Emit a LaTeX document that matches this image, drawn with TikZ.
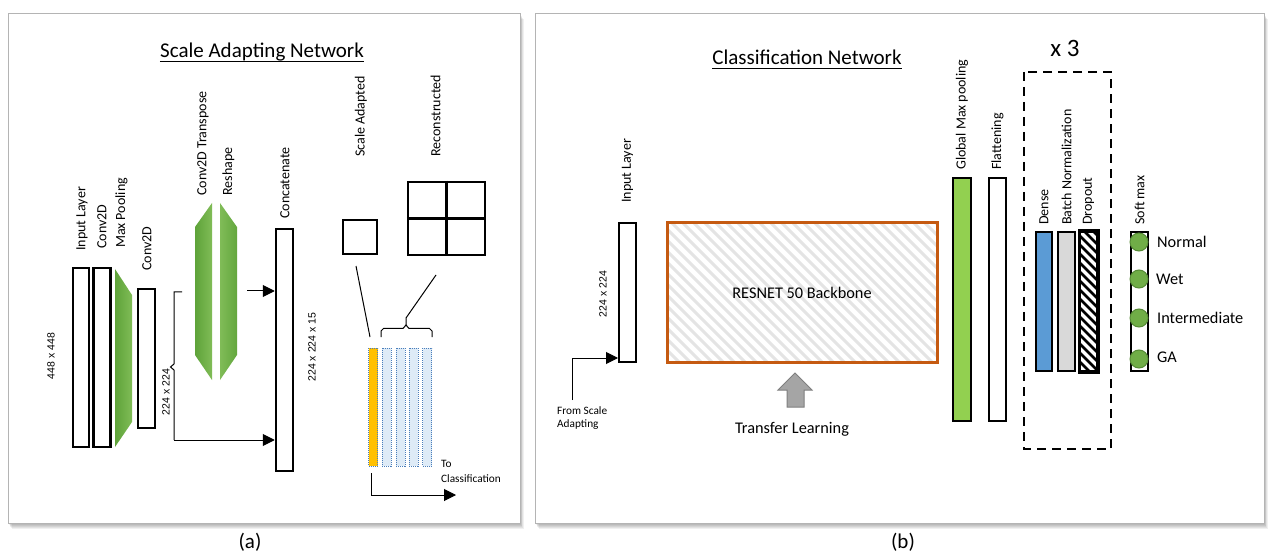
\documentclass[tikz,border=0pt]{standalone}
\usepackage{fontspec}
\setmainfont{Carlito}
\newfontfamily\dimfont{Liberation Sans}
\usetikzlibrary{arrows.meta}
\definecolor{frameline}{HTML}{B4B4B4}
\definecolor{greenA}{HTML}{5EA339}
\definecolor{greenB}{HTML}{80BC57}
\definecolor{resnetorange}{HTML}{C55A11}
\definecolor{hatchgray}{HTML}{E4E4E4}
\definecolor{gmpgreen}{HTML}{92D050}
\definecolor{denseblue}{HTML}{5B9BD5}
\definecolor{bngray}{HTML}{D9D9D9}
\definecolor{stripfill}{HTML}{DEEBF7}
\definecolor{stripline}{HTML}{4A7EBB}
\definecolor{scaleorange}{HTML}{FFC000}
\definecolor{smgreen}{HTML}{70AD47}
\definecolor{smgreenline}{HTML}{558A35}
\definecolor{tlfill}{HTML}{A5A5A5}
\definecolor{tlline}{HTML}{7F7F7F}

\begin{document}
\begin{tikzpicture}[x=1pt,y=-1pt,
  lbl/.style={rotate=90,anchor=west,inner sep=0pt,font=\fontsize{14}{16}\selectfont},
  dimlbl/.style={rotate=90,inner sep=0pt,font=\dimfont\fontsize{10.5}{12}\selectfont},
  bar/.style={draw,line width=2.5pt,inner sep=0pt,fill=white},
  strip/.style={draw=stripline,densely dotted,line width=1pt,fill=stripfill,inner sep=0pt,minimum width=9pt,minimum height=118pt},
  arr/.style={-{Triangle[length=12pt,width=12pt]},line width=1pt},
  title/.style={inner sep=0pt,font=\fontsize{21}{25}\selectfont},
  body/.style={inner sep=0pt,font=\fontsize{16.3}{19}\selectfont},
  small/.style={inner sep=0pt,anchor=west,font=\fontsize{11.3}{13}\selectfont},
  panel/.style={draw=frameline,line width=0.8pt,fill=white},
  smdot/.style={circle,fill=smgreen,draw=smgreenline,line width=1pt,minimum size=18pt,inner sep=0pt},
  cls/.style={anchor=west,inner sep=0pt,font=\fontsize{16.3}{19}\selectfont},
]
\useasboundingbox (0,0) rectangle (1269,553);
\fill[white] (0,0) rectangle (1269,553);

% ---------- panel frames with soft shadows ----------
\foreach \s in {1,...,6} {
  \fill[black,opacity=0.06] (8+\s*0.6,13+\s) rectangle (520+\s*0.6,523+\s);
  \fill[black,opacity=0.06] (535+\s*0.6,13+\s) rectangle (1264+\s*0.6,523+\s);
}
\draw[panel] (8,13) rectangle (520,523);
\draw[panel] (535,13) rectangle (1264,523);

% ================= (a) Scale Adapting Network =================
\node[title] (ta) at (262,52) {Scale Adapting Network};
\draw[line width=1.3pt] ([yshift=-4pt]ta.base west) -- ([yshift=-4pt]ta.base east);

% input stage
\node[bar,minimum width=16pt,minimum height=179pt] (in1) at (81,357.5) {};
\node[bar,minimum width=17pt,minimum height=179pt] (cv1) at (102,357.5) {};
\shade[left color=greenA,right color=greenB] (115,269) -- (132,295) -- (132,422) -- (115,447) -- cycle;
\node[bar,minimum width=17pt,minimum height=139pt] (cv2) at (146.5,358.5) {};

\node[lbl] at (82,251) {Input Layer};
\node[lbl] at (102,249) {Conv2D};
\node[lbl] at (121.5,248) {Max Pooling};
\node[lbl] at (147,271) {Conv2D};
\node[dimlbl] at (51,356) {448 x 448};
\node[dimlbl] at (166,392) {224 x 224};

% upsampling branch
\shade[left color=greenA,right color=greenB] (195,227) -- (212,203) -- (212,380) -- (195,355) -- cycle;
\shade[left color=greenB,right color=greenA!85!greenB] (220,203) -- (237,227) -- (237,355) -- (220,380) -- cycle;
\node[lbl] at (203,196) {Conv2D Transpose};
\node[lbl] at (228.5,196) {Reshape};

% concatenation
\node[bar,minimum width=17pt,minimum height=242pt] (conc) at (284.5,350) {};
\node[lbl] at (285,219) {Concatenate};
\node[dimlbl] at (312,347) {224 x 224 x 15};

% bracket and arrows into the concatenation
\coordinate (brtop) at (182,292);
\coordinate (upstart) at (247,291);
\draw[line width=1pt] (brtop) -- (174,292) -- (174,364) -- (170.5,367) -- (174,370) -- (174,440);
\draw[arr] (174,440) -- (conc.west |- 0,440);
\draw[arr] (upstart) -- (conc.west |- upstart);

% scale adapted / reconstructed tiles
\node[lbl] at (361,157) {Scale Adapted};
\node[lbl] at (435.5,157) {Reconstructed};
\node[draw,line width=2.5pt,minimum size=34pt,inner sep=0pt] (sq) at (360,237) {};
\node[draw,line width=2.5pt,minimum width=77pt,minimum height=73pt,inner sep=0pt] (grid) at (446.5,218.5) {};
\draw[line width=2.5pt] (grid.north) -- (grid.south) (grid.west) -- (grid.east);

% channel strips
\node[strip,fill=scaleorange] (o1) at (373,407) {};
\node[strip] (b1) at (386.5,407) {};
\node[strip] (b2) at (400.5,407) {};
\node[strip] (b3) at (413.5,407) {};
\node[strip] (b4) at (427,407) {};

\coordinate (sqlink) at (356,266);
\coordinate (gridlink) at (436,275);
\draw[line width=1pt] (sqlink) -- (370,337);
\draw[line width=1pt] (gridlink) -- (406,318) -- (406,325);
\draw[line width=1pt] (381,337) -- (381,331) -- (383.5,328.5) -- (403,328.5) -- (406,325) -- (409,328.5) -- (429.5,328.5) -- (432,331) -- (432,337);

\coordinate (toclass) at (456,495);
\draw[arr] (371,473) -- (371,495) -- (toclass);
\node[small] at (441,464) {To};
\node[small] at (441,479) {Classification};

\node[title] at (250,542) {(a)};

% ================= (b) Classification Network =================
\node[title] (tb) at (807,57) {Classification Network};
\draw[line width=1.3pt] ([yshift=-4pt]tb.base west) -- ([yshift=-4pt]tb.base east);
\node[inner sep=0pt,font=\fontsize{25}{28}\selectfont] at (1065,48) {x 3};

% input layer
\node[bar,line width=2pt,minimum width=17pt,minimum height=139pt] (il) at (627.5,292.5) {};
\node[lbl] at (627.5,203) {Input Layer};
\node[dimlbl] at (603,294) {224 x 224};
\coordinate (fromsa) at (572,400);
\draw[arr] (fromsa) -- (572,358) -- (il.west |- 0,358);
\node[small] at (557,411) {From Scale};
\node[small] at (557,425) {Adapting};

% backbone
\begin{scope}
  \clip (667,223) rectangle (937,362);
  \foreach \k in {-160,-149,...,280}
    \draw[hatchgray,line width=3pt] (667+\k,223) -- ++(150,150);
\end{scope}
\node[draw=resnetorange,line width=3pt,minimum width=270pt,minimum height=139pt,inner sep=0pt] (res) at (802,292.5) {};
\node[body] at (802,293) {RESNET 50 Backbone};

% transfer learning arrow
\draw[fill=tlfill,draw=tlline,line width=1pt] (795,373) -- (812,390) -- (804,390) -- (804,407) -- (787,407) -- (787,390) -- (778,390) -- cycle;
\node[body] at (792,429) {Transfer Learning};

% pooling and flattening
\node[bar,fill=gmpgreen,minimum width=18pt,minimum height=243pt] (gmp) at (962,299.5) {};
\node[bar,minimum width=17pt,minimum height=243pt] (flat) at (997.5,299.5) {};
\node[lbl] at (962,170) {Global Max pooling};
\node[lbl] at (997.5,170) {Flattening};

% repeated dense block
\draw[line width=2.5pt,dash pattern=on 9pt off 6pt] (1024,72) rectangle (1111,449);
\node[bar,fill=denseblue,minimum width=16pt,minimum height=139pt] (dense) at (1044,301.5) {};
\node[bar,fill=bngray,minimum width=17pt,minimum height=139pt] (bn) at (1066.5,301.5) {};
\node[bar,minimum width=17pt,minimum height=139pt] (drop) at (1088.5,301.5) {};
\begin{scope}
  \clip (1080,232) rectangle (1097,371);
  \foreach \k in {-32,-23,...,150}
    \draw[line width=2.8pt] (1080,232+\k) -- ++(17,17);
\end{scope}
\draw[line width=2.5pt] (drop.south west) rectangle (drop.north east);
\node[lbl] at (1044,225) {Dense};
\node[lbl] at (1066.5,225) {Batch Normalization};
\node[lbl] at (1088.5,225) {Dropout};

% soft max output
\node[bar,line width=2pt,minimum width=17pt,minimum height=139pt] (sm) at (1139.5,301.5) {};
\node[lbl] at (1139.5,225) {Soft max};
\node[smdot] (c1) at (1139,242) {};
\node[smdot] (c2) at (1139,279) {};
\node[smdot] (c3) at (1139,318) {};
\node[smdot] (c4) at (1139,359) {};
\node[cls] at (1157,242) {Normal};
\node[cls] at (1156,279) {Wet};
\node[cls] at (1157,318) {Intermediate};
\node[cls] at (1157,357) {GA};

\node[title] at (903,542) {(b)};
\end{tikzpicture}
\end{document}
